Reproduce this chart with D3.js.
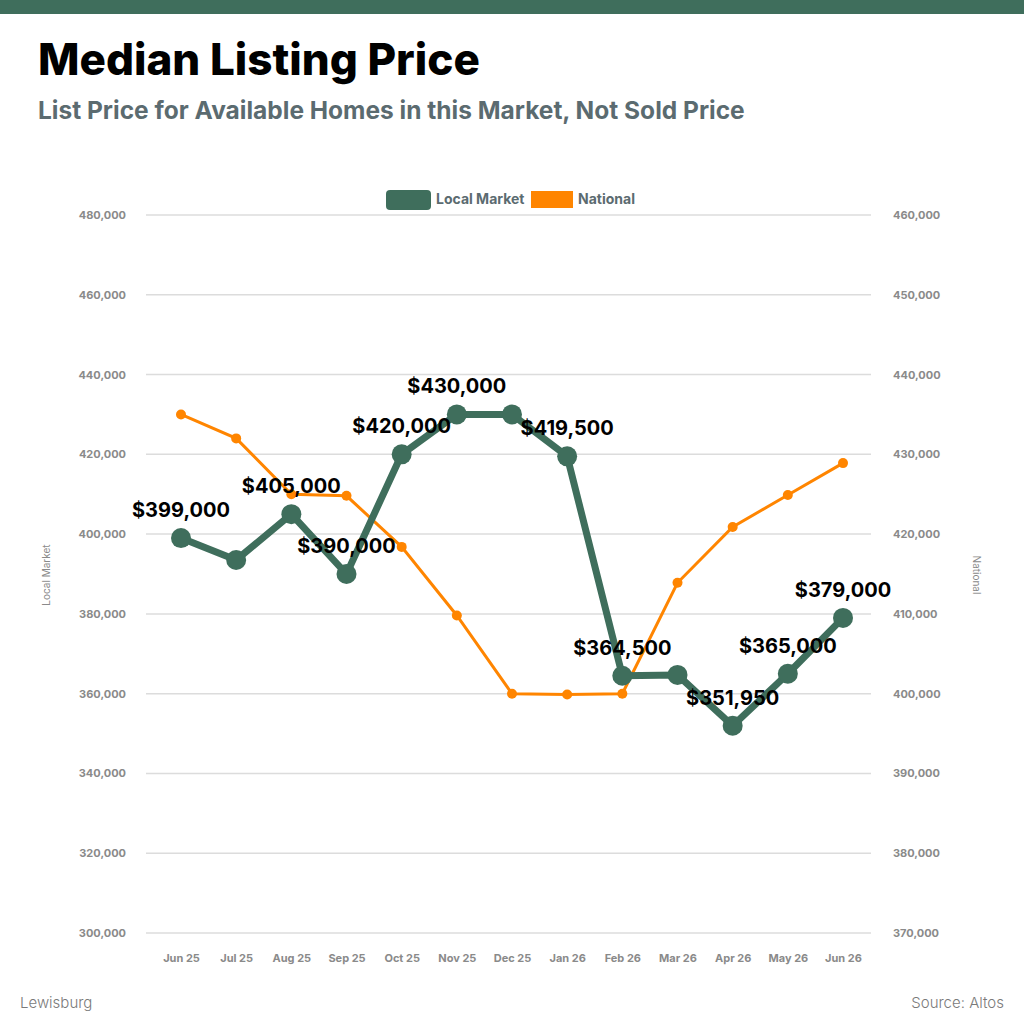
<!DOCTYPE html>
<html>
<head>
<meta charset="utf-8">
<script src="https://cdn.jsdelivr.net/npm/d3@7"></script>
<style>
  body { margin: 0; background: #fff; }
  svg { display: block; font-family: Inter, 'Noto Sans', sans-serif; }
</style>
</head>
<body>
<svg id="chart" width="1024" height="1024"></svg>
<script>
const months = ['Jun 25', 'Jul 25', 'Aug 25', 'Sep 25', 'Oct 25', 'Nov 25', 'Dec 25',
  'Jan 26', 'Feb 26', 'Mar 26', 'Apr 26', 'May 26', 'Jun 26'];
const localValues = [399000, 393500, 405000, 390000, 420000, 430000, 430000,
  419500, 364500, 364700, 351950, 365000, 379000];
const nationalValues = [435000, 432000, 425000, 424800, 418400, 409800, 400000,
  399900, 400000, 413900, 420900, 424900, 428900];
// which local points carry a price label
const showLabel = [true, false, true, true, true, true, false,
  true, true, false, true, true, true];
const leftTicks = [300000, 320000, 340000, 360000, 380000, 400000, 420000, 440000, 460000, 480000];
const rightTicks = [370000, 380000, 390000, 400000, 410000, 420000, 430000, 440000, 450000, 460000];

const green = '#3f6e5c', orange = '#ff8500', gray = '#8a8a8a', slate = '#5b6b70';

const svg = d3.select('#chart');

svg.append('rect').attr('x', 0).attr('y', 0).attr('width', 1024).attr('height', 14).attr('fill', green);

svg.append('text')
  .attr('x', 38).attr('y', 75)
  .attr('font-size', 44).attr('font-weight', 800).attr('fill', '#000')
  .text('Median Listing Price');

svg.append('text')
  .attr('x', 38).attr('y', 119)
  .attr('font-size', 24.5).attr('font-weight', 700).attr('fill', slate)
  .text('List Price for Available Homes in this Market, Not Sold Price');

const x = d3.scalePoint().domain(months).range([181, 843]);
const yL = d3.scaleLinear().domain([300000, 480000]).range([933, 215]);
const yR = d3.scaleLinear().domain([370000, 460000]).range([933, 215]);

// gridlines
svg.append('g')
  .selectAll('line')
  .data(leftTicks)
  .enter()
  .append('line')
  .attr('x1', 146).attr('x2', 871)
  .attr('y1', d => yL(d)).attr('y2', d => yL(d))
  .attr('stroke', '#dcdcdc').attr('stroke-width', 1.5);

const fmt = d3.format(',');

const leftAxis = g =>
  g.attr('transform', 'translate(146,0)')
    .call(d3.axisLeft(yL).tickValues(leftTicks).tickFormat(fmt).tickSize(0).tickPadding(20))
    .call(g => g.select('.domain').remove());

const rightAxis = g =>
  g.attr('transform', 'translate(871,0)')
    .call(d3.axisRight(yR).tickValues(rightTicks).tickFormat(fmt).tickSize(0).tickPadding(22))
    .call(g => g.select('.domain').remove());

const bottomAxis = g =>
  g.attr('transform', 'translate(0,958)')
    .call(d3.axisBottom(x).tickSize(0).tickPadding(0))
    .call(g => g.select('.domain').remove());

[leftAxis, rightAxis].forEach(a => {
  svg.append('g').call(a)
    .call(g => g.selectAll('text')
      .attr('font-family', 'Inter, sans-serif')
      .attr('font-size', 11).attr('font-weight', 700).attr('fill', gray));
});

svg.append('g').call(bottomAxis)
  .call(g => g.selectAll('text')
    .attr('font-family', 'Inter, sans-serif')
    .attr('dy', '0.35em')
    .attr('font-size', 11).attr('font-weight', 700).attr('fill', gray));

svg.append('text')
  .attr('transform', 'translate(50,575) rotate(-90)')
  .attr('text-anchor', 'middle')
  .attr('font-size', 10).attr('fill', gray)
  .text('Local Market');

svg.append('text')
  .attr('transform', 'translate(973,575) rotate(90)')
  .attr('text-anchor', 'middle')
  .attr('font-size', 10).attr('fill', gray)
  .text('National');

// national line
const nLine = d3.line().x((d, i) => x(months[i])).y(d => yR(d));
svg.append('path')
  .datum(nationalValues)
  .attr('d', nLine)
  .attr('fill', 'none').attr('stroke', orange).attr('stroke-width', 3);
svg.append('g')
  .selectAll('circle')
  .data(nationalValues)
  .enter()
  .append('circle')
  .attr('cx', (d, i) => x(months[i]))
  .attr('cy', d => yR(d))
  .attr('r', 5)
  .attr('fill', orange);

// local line
const lLine = d3.line().x((d, i) => x(months[i])).y(d => yL(d));
svg.append('path')
  .datum(localValues)
  .attr('d', lLine)
  .attr('fill', 'none').attr('stroke', green).attr('stroke-width', 7)
  .attr('stroke-linejoin', 'round');
svg.append('g')
  .selectAll('circle')
  .data(localValues)
  .enter()
  .append('circle')
  .attr('cx', (d, i) => x(months[i]))
  .attr('cy', d => yL(d))
  .attr('r', 10)
  .attr('fill', green);

// value labels
svg.append('g')
  .selectAll('text')
  .data(localValues.map((v, i) => ({ v, i })).filter(d => showLabel[d.i]))
  .enter()
  .append('text')
  .attr('x', d => x(months[d.i]))
  .attr('y', d => yL(d.v) - 21)
  .attr('text-anchor', 'middle')
  .attr('font-size', 20).attr('font-weight', 700).attr('fill', '#000')
  .text(d => '$' + fmt(d.v));

// legend
const legend = svg.append('g').attr('font-size', 14).attr('font-weight', 700).attr('fill', slate);
legend.append('rect').attr('x', 386).attr('y', 190).attr('width', 45).attr('height', 20).attr('rx', 4).attr('fill', green);
legend.append('text').attr('x', 436).attr('y', 204).text('Local Market');
legend.append('rect').attr('x', 531).attr('y', 191).attr('width', 42).attr('height', 17).attr('fill', orange);
legend.append('text').attr('x', 578).attr('y', 204).text('National');

// footer
svg.append('text')
  .attr('x', 20).attr('y', 1008)
  .attr('font-size', 15).attr('font-weight', 300).attr('fill', '#7a7a7a')
  .text('Lewisburg');
svg.append('text')
  .attr('x', 1004).attr('y', 1008)
  .attr('text-anchor', 'end')
  .attr('font-size', 15).attr('font-weight', 300).attr('fill', '#7a7a7a')
  .text('Source: Altos');
</script>
</body>
</html>
